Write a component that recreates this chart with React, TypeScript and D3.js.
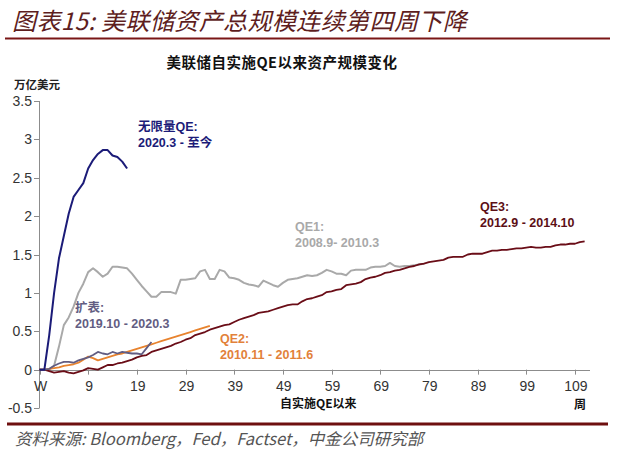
import React from 'react';
import * as d3 from 'd3';

const yTickValues = [-0.5, 0, 0.5, 1, 1.5, 2, 2.5, 3, 3.5];
const yTickLabels = ['-0.5', '0', '0.5', '1', '1.5', '2', '2.5', '3', '3.5'];
const xTickLabels = ['W', '9', '19', '29', '39', '49', '59', '69', '79', '89', '99', '109'];

// 无限量QE: 2020.3 - 至今
const unlimitedQE = [0, 0, 0.45, 1.0, 1.45, 1.74, 2.03, 2.25, 2.34, 2.43, 2.62, 2.73, 2.81, 2.86, 2.86, 2.79, 2.77, 2.71, 2.62];

// QE1: 2008.9 - 2010.3
const qe1 = [0, 0, 0, 0.05, 0.3, 0.58, 0.68, 0.82, 1.0, 1.12, 1.27, 1.32, 1.27, 1.21, 1.25, 1.34, 1.34, 1.33, 1.32, 1.25,
  1.17, 1.09, 1.02, 0.95, 0.95, 1.01, 1.01, 1.01, 0.99, 1.17, 1.17, 1.18, 1.19, 1.28, 1.30, 1.18, 1.18, 1.30, 1.28, 1.20,
  1.19, 1.17, 1.13, 1.11, 1.10, 1.08, 1.16, 1.13, 1.10, 1.08, 1.13, 1.17, 1.18, 1.19, 1.21, 1.23, 1.22, 1.23, 1.26, 1.30,
  1.28, 1.25, 1.25, 1.23, 1.29, 1.30, 1.30, 1.30, 1.33, 1.34, 1.34, 1.35, 1.39, 1.35, 1.34, 1.35, 1.35, 1.36, 1.37, 1.38];

// QE2: 2010.11 - 2011.6
const qe2 = [0, 0, 0.01, 0.02, 0.03, 0.05, 0.06, 0.07, 0.09, 0.13, 0.17, 0.15, 0.12, 0.14, 0.16, 0.18, 0.20, 0.21, 0.23, 0.25,
  0.27, 0.29, 0.31, 0.33, 0.35, 0.37, 0.39, 0.41, 0.43, 0.45, 0.47, 0.49, 0.51, 0.53, 0.55, 0.57];

// QE3: 2012.9 - 2014.10
const qe3 = [0, 0, -0.02, -0.04, -0.03, -0.02, -0.04, -0.05, -0.03, -0.01, 0.02, 0.01, 0.0, 0.03, 0.06, 0.06, 0.08, 0.09, 0.11, 0.13,
  0.16, 0.18, 0.19, 0.23, 0.25, 0.27, 0.29, 0.31, 0.34, 0.36, 0.39, 0.41, 0.45, 0.47, 0.49, 0.52, 0.54, 0.56, 0.58, 0.59,
  0.62, 0.65, 0.67, 0.69, 0.71, 0.74, 0.75, 0.76, 0.78, 0.80, 0.82, 0.84, 0.85, 0.85, 0.89, 0.92, 0.93, 0.95, 0.97, 1.01,
  1.02, 1.04, 1.05, 1.10, 1.11, 1.12, 1.14, 1.18, 1.20, 1.21, 1.23, 1.26, 1.27, 1.29, 1.30, 1.32, 1.34, 1.35, 1.37, 1.38,
  1.40, 1.41, 1.42, 1.43, 1.46, 1.47, 1.47, 1.47, 1.50, 1.51, 1.51, 1.51, 1.53, 1.55, 1.55, 1.56, 1.56, 1.57, 1.58, 1.58,
  1.59, 1.60, 1.59, 1.59, 1.60, 1.60, 1.62, 1.63, 1.63, 1.64, 1.64, 1.66, 1.67];

// 扩表: 2019.10 - 2020.3
const expansion = [0, 0, 0.01, 0.05, 0.08, 0.10, 0.10, 0.09, 0.12, 0.14, 0.16, 0.19, 0.23, 0.21, 0.20, 0.23, 0.21, 0.23, 0.22, 0.21,
  0.21, 0.20, 0.28, 0.36];

const FONT = '"Liberation Sans", Arial, "Noto Sans CJK SC", sans-serif';
const CJK = '"Noto Sans CJK SC", "Liberation Sans", sans-serif';

export default function App() {
  const W = 617, H = 453;
  const x = d3.scaleLinear().domain([0, 113]).range([39.5, 589.5]);
  const y = d3.scaleLinear().domain([-0.5, 3.5]).range([408, 101]);
  const line = d3.line<number>().x((_, i) => x(i)).y(d => y(d));

  const series = [
    { data: qe1, color: '#a9a9a9', w: 2 },
    { data: qe2, color: '#e8832e', w: 1.8 },
    { data: qe3, color: '#6a0d17', w: 1.8 },
    { data: expansion, color: '#625d82', w: 1.8 },
    { data: unlimitedQE, color: '#1b1b78', w: 2 },
  ];

  const annos = [
    { t1: '无限量QE:', t2: '2020.3 - 至今', x: 138, y: 131, c: '#1b1b78' },
    { t1: 'QE1:', t2: '2008.9- 2010.3', x: 295, y: 231, c: '#a9a9a9' },
    { t1: 'QE3:', t2: '2012.9 - 2014.10', x: 480, y: 211, c: '#5c0f16' },
    { t1: '扩表:', t2: '2019.10 - 2020.3', x: 75, y: 312, c: '#625d82' },
    { t1: 'QE2:', t2: '2010.11 - 2011.6', x: 220, y: 343, c: '#e2813a' },
  ];

  return (
    <svg width={W} height={H} style={{ position: 'absolute', left: 0, top: 0, background: '#fff' }}>
      <rect x={0} y={0} width={W} height={H} fill="#fff" />
      <text x={12} y={30} fontFamily={CJK} fontStyle="italic" fontSize={24} letterSpacing={0.4} fill="#5e1e1e">图表15:  美联储资产总规模连续第四周下降</text>
      <rect x={5} y={37.5} width={605} height={2} fill="#7a1616" />
      <text x={282} y={68} textAnchor="middle" fontFamily={CJK} fontWeight="bold" fontSize={14.5} letterSpacing={0.5} fill="#111">美联储自实施QE以来资产规模变化</text>
      <text x={14} y={89} fontFamily={CJK} fontWeight="bold" fontSize={11.5} fill="#222">万亿美元</text>

      {/* y axis */}
      <line x1={39.5} x2={39.5} y1={y(3.5)} y2={y(-0.5)} stroke="#8c8c8c" strokeWidth={1} />
      {yTickValues.map((v, i) => (
        <g key={'y' + i}>
          <line x1={34} x2={39.5} y1={Math.round(y(v)) + 0.5} y2={Math.round(y(v)) + 0.5} stroke="#8c8c8c" />
          <text x={32} y={y(v) + 5} textAnchor="end" fontFamily={FONT} fontSize={14} fill="#333">{yTickLabels[i]}</text>
        </g>
      ))}
      {/* x axis */}
      <line x1={39.5} x2={590} y1={Math.round(y(0)) + 0.5} y2={Math.round(y(0)) + 0.5} stroke="#8c8c8c" />
      {xTickLabels.map((l, i) => (
        <g key={'x' + i}>
          <line x1={Math.round(x(i * 10)) + 0.5} x2={Math.round(x(i * 10)) + 0.5} y1={y(0)} y2={y(0) + 5} stroke="#8c8c8c" />
          <text x={x(i * 10) + 1} y={391} textAnchor="middle" fontFamily={FONT} fontSize={14} fill="#333">{l}</text>
        </g>
      ))}
      <text x={280} y={408} fontFamily={CJK} fontWeight="bold" fontSize={12} fill="#111">自实施QE以来</text>
      <text x={580} y={409} textAnchor="middle" fontFamily={CJK} fontWeight="bold" fontSize={12} fill="#111">周</text>

      {series.map((s, i) => (
        <path key={'s' + i} d={line(s.data) || ''} fill="none" stroke={s.color} strokeWidth={s.w} strokeLinejoin="round" />
      ))}

      {annos.map((a, i) => (
        <g key={'a' + i} fontFamily={FONT} fontWeight="bold" fontSize={12.5} fill={a.c}>
          <text x={a.x} y={a.y}>{a.t1}</text>
          <text x={a.x} y={a.y + 16}>{a.t2}</text>
        </g>
      ))}

      <rect x={7} y={422.5} width={601} height={3} fill="#6e0f0f" />
      <text x={15} y={445} fontFamily={CJK} fontStyle="italic" fontSize={16.5} fill="#555">资料来源: Bloomberg，Fed，Factset，中金公司研究部</text>
    </svg>
  );
}
